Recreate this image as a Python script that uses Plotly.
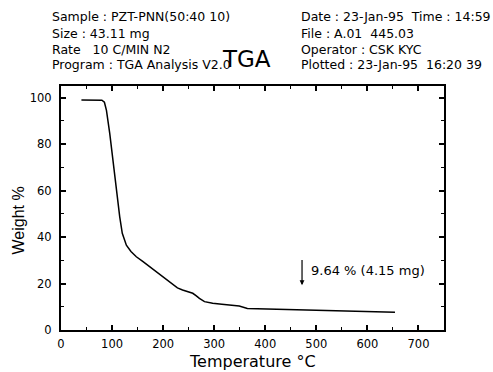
import plotly.graph_objects as go

temperature = [40, 60, 80, 85, 89, 95.5, 102, 108.5, 115, 120, 124, 128, 137, 147.5, 160, 170, 180, 190,
               199, 210, 219, 228, 238, 248, 258, 265, 271, 281, 297, 315, 336, 349, 365, 395, 427,
               460, 492, 540, 580, 620, 654]
weight = [99, 99, 98.9, 98.0, 94.5, 84.5, 71.6, 60.2, 48.7, 41.6, 38.5, 36.5, 33.8, 31.5, 29.5, 27.8, 26.2,
          24.5, 22.9, 21.0, 19.3, 18.1, 17.2, 16.5, 15.8, 14.7, 13.6, 12.2, 11.5, 11.1, 10.7, 10.3, 9.3,
          9.1, 8.9, 8.75, 8.6, 8.4, 8.2, 7.9, 7.6]

x_ticks = [0, 100, 200, 300, 400, 500, 600, 700]
y_ticks = [0, 20, 40, 60, 80, 100]

header_left = ["Sample : PZT-PNN(50:40 10)", "Size : 43.11 mg", "Rate   10 C/MIN N2", "Program : TGA Analysis V2.0"]
header_right = ["Date : 23-Jan-95  Time : 14:59", "File : A.01  445.03", "Operator : CSK KYC", "Plotted : 23-Jan-95  16:20 39"]

arrow_x = 472
arrow_top = 30.8
arrow_bottom = 19.3
note_text = "9.64 % (4.15 mg)"

FONT = "DejaVu Sans, Verdana, sans-serif"
FONT_NARROW = "Liberation Sans, Arial, sans-serif"

# plot area in pixels: left 61, right 444, top 86, bottom 330
def py_to_paper(py):
    return (330 - py) / 244

def px_to_paper(px):
    return (px - 61) / 383

fig = go.Figure()
fig.add_trace(go.Scatter(x=temperature, y=weight, mode="lines",
                         line=dict(color="black", width=1.5), hoverinfo="skip"))

axis_common = dict(showline=True, linecolor="black", linewidth=2, mirror="ticks",
                   ticks="inside", ticklen=5, tickwidth=1.5, tickcolor="black",
                   showgrid=False, zeroline=False,
                   tickfont=dict(family=FONT, size=11.5, color="black"))

fig.update_xaxes(range=[0, 750], tickvals=x_ticks, ticktext=[str(v) for v in x_ticks],
                 minor=dict(dtick=50, tick0=0, ticks="inside", ticklen=3, tickcolor="black", tickwidth=1),
                 ticklabelstandoff=2, **axis_common)
fig.update_yaxes(range=[0, 105], tickvals=y_ticks, ticktext=[str(v) for v in y_ticks],
                 minor=dict(dtick=10, tick0=0, ticks="inside", ticklen=3, tickcolor="black", tickwidth=1),
                 ticklabelstandoff=5, **axis_common)

annotations = []
line_y = [17, 33, 49, 64]
for i, t in enumerate(header_left):
    annotations.append(dict(text=t, xref="paper", yref="paper", x=px_to_paper(50), y=py_to_paper(line_y[i]),
                            showarrow=False, xanchor="left", yanchor="middle",
                            font=dict(family=FONT, size=12.5, color="black")))
for i, t in enumerate(header_right):
    annotations.append(dict(text=t, xref="paper", yref="paper", x=px_to_paper(299), y=py_to_paper(line_y[i]),
                            showarrow=False, xanchor="left", yanchor="middle",
                            font=dict(family=FONT, size=12.5, color="black")))
annotations.append(dict(text="TGA", xref="paper", yref="paper", x=px_to_paper(246), y=py_to_paper(59),
                        showarrow=False, xanchor="center", yanchor="middle",
                        font=dict(family=FONT, size=23, color="black")))
annotations.append(dict(text="Temperature \u00b0C", xref="paper", yref="paper", x=px_to_paper(253),
                        y=py_to_paper(361), showarrow=False, xanchor="center", yanchor="middle",
                        font=dict(family=FONT, size=16, color="black")))
annotations.append(dict(text="Weight %", xref="paper", yref="paper", x=px_to_paper(17.5),
                        y=py_to_paper(221), showarrow=False, xanchor="center", yanchor="middle",
                        textangle=-90, font=dict(family=FONT_NARROW, size=16, color="black")))
annotations.append(dict(x=arrow_x, y=arrow_bottom, ax=arrow_x, ay=arrow_top, xref="x", yref="y",
                        axref="x", ayref="y", text="", showarrow=True, arrowhead=2, arrowsize=0.8,
                        arrowwidth=1.2, arrowcolor="black"))
annotations.append(dict(x=arrow_x + 14, y=25.5, xref="x", yref="y", text=note_text, showarrow=False,
                        xanchor="left", yanchor="middle", font=dict(family=FONT, size=13, color="black")))

fig.update_layout(width=493, height=372, margin=dict(l=61, r=49, t=86, b=42),
                  paper_bgcolor="white", plot_bgcolor="white", showlegend=False,
                  annotations=annotations)

fig.write_html("out.html", config={"displayModeBar": False})
